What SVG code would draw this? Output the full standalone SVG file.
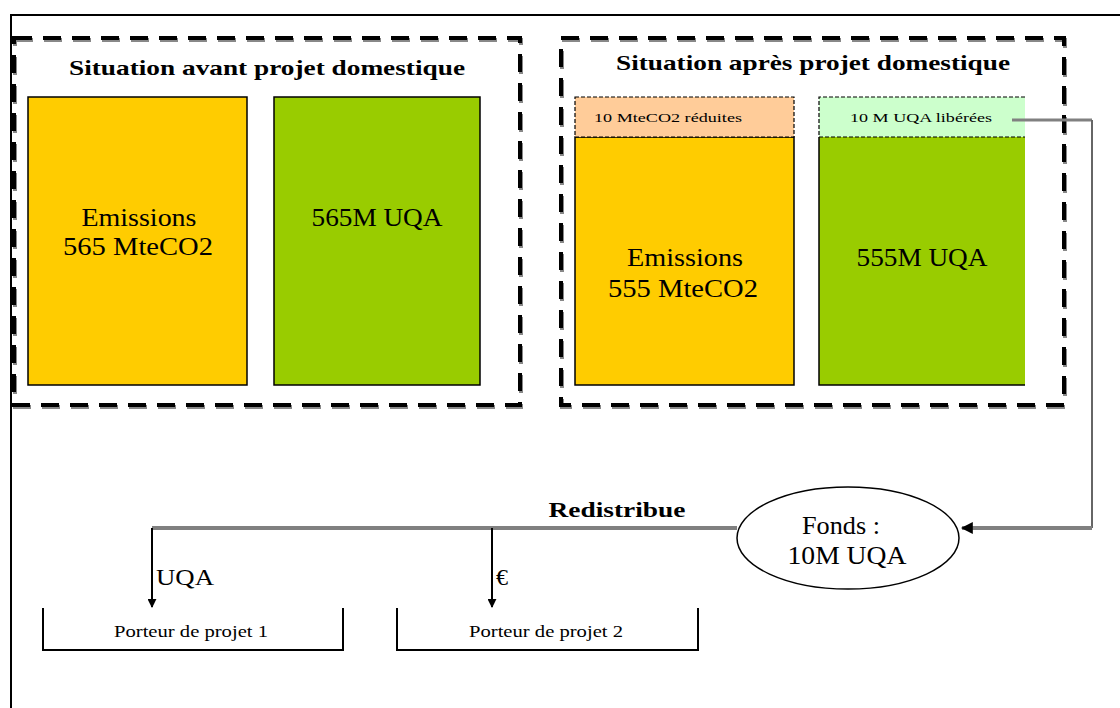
<svg xmlns="http://www.w3.org/2000/svg" width="1120" height="708" viewBox="0 0 1120 708">
<defs>
<style>
.t{font-family:"Liberation Serif","Times New Roman",serif;fill:#000}
.title{font-size:21px;font-weight:bold}
.big{font-size:26px}
.small{font-size:13px}
.mid{font-size:17px}
.dash{fill:none;stroke:#000;stroke-width:4;stroke-dasharray:18,11}
.dashsh{fill:none;stroke:#888;stroke-width:4;stroke-dasharray:18,11}
.thin{stroke:#000;stroke-width:1.2;stroke-dasharray:4,2}
.gray{fill:none;stroke:#808080;stroke-width:4}
.blk{fill:none;stroke:#000;stroke-width:2}
</style>
<marker id="ah" viewBox="0 0 10 10" refX="9" refY="5" markerWidth="4.5" markerHeight="4.5" orient="auto" markerUnits="strokeWidth">
<path d="M0,0 L10,5 L0,10 z" fill="#000"/>
</marker>
<marker id="ah2" viewBox="0 0 10 10" refX="9" refY="5" markerWidth="3" markerHeight="3" orient="auto" markerUnits="strokeWidth">
<path d="M0,0 L10,5 L0,10 z" fill="#000"/>
</marker>
</defs>
<rect width="1120" height="708" fill="#fff"/>
<g id="frame">
<path d="M11,708 L11,15 L1120,15" fill="none" stroke="#000" stroke-width="2"/>
</g>
<g id="avant">
<rect class="dashsh" x="15" y="40" width="506" height="367"/>
<rect class="dash" x="14" y="38" width="506" height="367"/>
<text class="t title" x="267" y="75" text-anchor="middle" textLength="396" lengthAdjust="spacingAndGlyphs">Situation avant projet domestique</text>
</g>
<g id="emissions-avant">
<rect x="28" y="97" width="219" height="288" fill="#FFCC00" stroke="#000" stroke-width="1.5"/>
<text class="t big" x="139" y="226" text-anchor="middle" textLength="115" lengthAdjust="spacingAndGlyphs">Emissions</text>
<text class="t big" x="138" y="255" text-anchor="middle" textLength="150" lengthAdjust="spacingAndGlyphs">565 MteCO2</text>
</g>
<g id="uqa-avant">
<rect x="274" y="97" width="206" height="288" fill="#99CC00" stroke="#000" stroke-width="1.5"/>
<text class="t big" x="377" y="226" text-anchor="middle" textLength="131" lengthAdjust="spacingAndGlyphs">565M UQA</text>
</g>
<g id="apres">
<rect class="dashsh" x="562" y="40" width="503" height="367"/>
<rect class="dash" x="561" y="38" width="503" height="367"/>
<text class="t title" x="813" y="70" text-anchor="middle" textLength="394" lengthAdjust="spacingAndGlyphs">Situation après projet domestique</text>
</g>
<g id="emissions-apres">
<rect x="575" y="137" width="219" height="248" fill="#FFCC00" stroke="#000" stroke-width="1.5"/>
<rect x="575" y="97" width="219" height="40" fill="#FFCC99" class="thin"/>
<text class="t small" x="668" y="122" text-anchor="middle" textLength="148" lengthAdjust="spacingAndGlyphs">10 MteCO2 réduites</text>
<text class="t big" x="685" y="266" text-anchor="middle" textLength="116" lengthAdjust="spacingAndGlyphs">Emissions</text>
<text class="t big" x="683" y="297" text-anchor="middle" textLength="150" lengthAdjust="spacingAndGlyphs">555 MteCO2</text>
</g>
<g id="uqa-apres">
<rect x="819" y="137" width="206" height="248" fill="#99CC00"/>
<path d="M1025,385 L819,385 L819,137" fill="none" stroke="#000" stroke-width="1.5"/>
<rect x="819" y="97" width="206" height="40" fill="#CCFFCC"/>
<path d="M1025,97 L819,97 L819,137 L1025,137" fill="none" class="thin"/>
<text class="t small" x="921" y="122" text-anchor="middle" textLength="142" lengthAdjust="spacingAndGlyphs">10 M UQA libérées</text>
<text class="t big" x="922" y="266" text-anchor="middle" textLength="131" lengthAdjust="spacingAndGlyphs">555M UQA</text>
</g>
<g id="connectors">
<path d="M1012,120 L1092,120" stroke="#808080" stroke-width="3" fill="none"/>
<path d="M1092,120 L1092,528" stroke="#666" stroke-width="2" fill="none"/>
<path d="M1092,528 L962,528" stroke="#808080" stroke-width="4" fill="none" marker-end="url(#ah2)"/>
<path d="M737,528 L152,528" class="gray"/>
<path d="M152,528 L152,607" class="blk" marker-end="url(#ah)"/>
<path d="M492,528 L492,607" class="blk" marker-end="url(#ah)"/>
<text class="t title" x="617" y="517" text-anchor="middle" textLength="137" lengthAdjust="spacingAndGlyphs">Redistribue</text>
<text class="t" x="156" y="585" font-size="24" textLength="58" lengthAdjust="spacingAndGlyphs">UQA</text>
<text class="t" x="496" y="585" font-size="24">€</text>
</g>
<g id="fonds">
<ellipse cx="848" cy="538" rx="111" ry="51" fill="#fff" stroke="#000" stroke-width="1.5"/>
<text class="t big" x="841" y="534" text-anchor="middle" textLength="78" lengthAdjust="spacingAndGlyphs">Fonds :</text>
<text class="t big" x="847" y="564" text-anchor="middle" textLength="119" lengthAdjust="spacingAndGlyphs">10M UQA</text>
</g>
<g id="porteur1">
<path d="M43,608 L43,650 L343,650 L343,608" fill="none" stroke="#000" stroke-width="2"/>
<text class="t mid" x="191" y="637" text-anchor="middle" textLength="154" lengthAdjust="spacingAndGlyphs">Porteur de projet 1</text>
</g>
<g id="porteur2">
<path d="M397,608 L397,650 L698,650 L698,608" fill="none" stroke="#000" stroke-width="2"/>
<text class="t mid" x="546" y="637" text-anchor="middle" textLength="154" lengthAdjust="spacingAndGlyphs">Porteur de projet 2</text>
</g>
</svg>
